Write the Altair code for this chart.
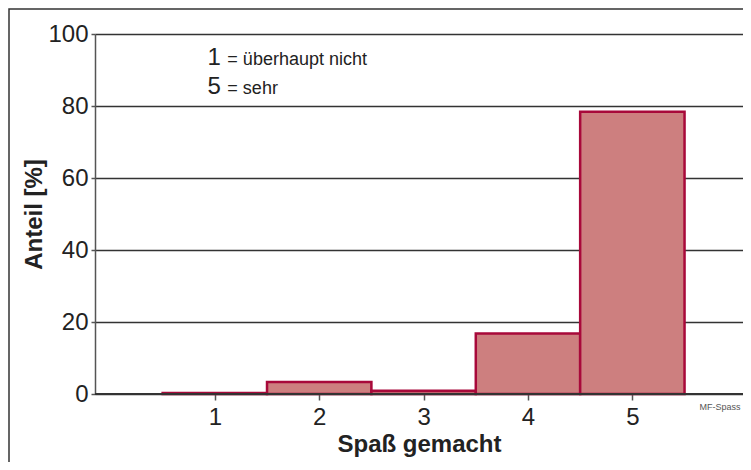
import altair as alt
import pandas as pd

categories = [1, 2, 3, 4, 5]
shares = [0.3, 3.3, 0.9, 16.8, 78.4]
y_ticks = [0, 20, 40, 60, 80, 100]

bars_df = pd.DataFrame({
    "cat": categories,
    "lo": [c - 0.5 for c in categories],
    "hi": [c + 0.5 for c in categories],
    "share": shares,
})

FONT = "Liberation Sans"
GRID = "#333333"

xscale = alt.Scale(domain=[-0.148, 6.06], nice=False, zero=False)
yscale = alt.Scale(domain=[0, 100], nice=False)

bars = alt.Chart(bars_df).mark_rect(
    fill="#CD7F7F", stroke="#A8093A", strokeWidth=2.5
).encode(
    x=alt.X("lo:Q", scale=xscale,
            axis=alt.Axis(values=categories, format="d", grid=False, title="Spaß gemacht",
                          labelFontSize=24, labelFont=FONT, labelColor="#222",
                          titleFontSize=24, titleFont=FONT, titleFontWeight="bold",
                          titleColor="#222", tickSize=6, tickColor="#555",
                          tickWidth=1.5, domain=False, labelPadding=5,
                          titlePadding=3)),
    x2="hi:Q",
    y=alt.Y("share:Q", scale=yscale,
            axis=alt.Axis(values=y_ticks, grid=True, gridColor=GRID, gridWidth=1.5,
                          gridOpacity=1, title="Anteil [%]",
                          labelFontSize=24, labelFont=FONT, labelColor="#222",
                          titleFontSize=24, titleFont=FONT, titleFontWeight="bold",
                          titleColor="#222", tickSize=4, tickColor="#555",
                          tickWidth=1.5, domainColor="#555", domainWidth=1.5,
                          labelPadding=3, titlePadding=1)),
    y2=alt.datum(0),
)

base_line = alt.Chart(pd.DataFrame({"v": [0]})).mark_rule(
    color="#333", strokeWidth=2
).encode(y=alt.Y("v:Q", scale=yscale))

ann_big = pd.DataFrame({"t": ["1", "5"], "x": [0.93, 0.93], "y": [91.4, 83.3]})
ann_small = pd.DataFrame({"t": ["= überhaupt nicht", "= sehr"], "x": [1.12, 1.12], "y": [91.4, 83.3]})

t_big = alt.Chart(ann_big).mark_text(
    align="left", baseline="alphabetic", fontSize=24, font=FONT, color="#222"
).encode(x=alt.X("x:Q", scale=xscale), y=alt.Y("y:Q", scale=yscale), text="t:N")
t_small = alt.Chart(ann_small).mark_text(
    align="left", baseline="alphabetic", fontSize=18, font=FONT, color="#222"
).encode(x=alt.X("x:Q", scale=xscale), y=alt.Y("y:Q", scale=yscale), text="t:N")

label = alt.Chart(pd.DataFrame({"t": ["MF-Spass"]})).mark_text(
    align="center", baseline="middle", fontSize=9, font=FONT, color="#555"
).encode(x=alt.value(625), y=alt.value(373), text="t:N")

frame = alt.Chart(pd.DataFrame({"a": [0]})).mark_rect(
    fill=None, stroke="#333", strokeWidth=1.5, clip=False
).encode(x=alt.value(-86), x2=alt.value(720), y=alt.value(-25), y2=alt.value(500))

chart = alt.layer(frame, bars, base_line, t_big, t_small, label).properties(
    width=648, height=360,
    autosize=alt.AutoSizeParams(type="none"),
    padding={"left": 87, "top": 26, "right": 0, "bottom": 68},
).configure_view(stroke="#333", strokeWidth=1.5).configure(background="white")

chart.save("out.html", embed_options={"renderer": "svg", "actions": False})
